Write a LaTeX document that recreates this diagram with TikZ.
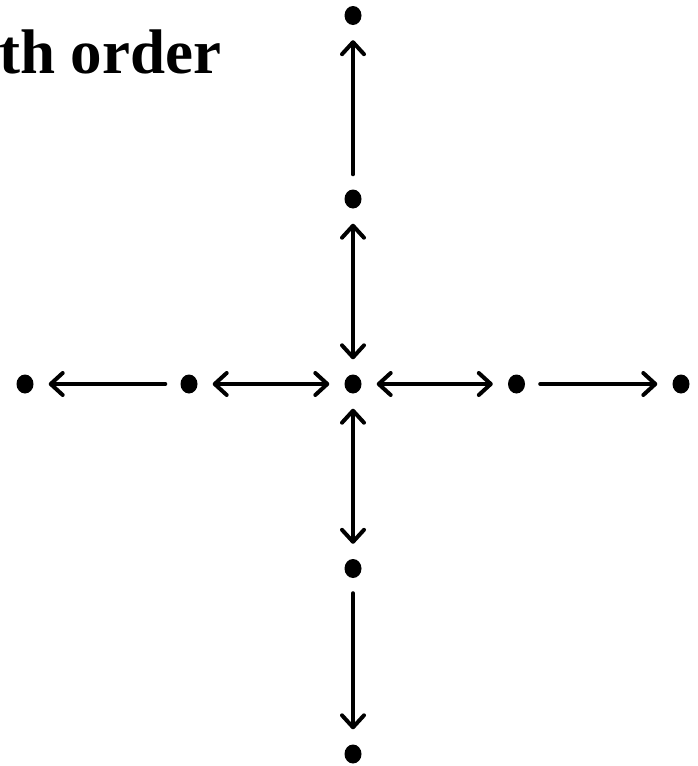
\documentclass[tikz,border=0pt]{standalone}
\usepackage{fontspec}
\setmainfont{Liberation Serif}
\usetikzlibrary{arrows.meta,shapes.geometric}
\begin{document}
\begin{tikzpicture}[x=1pt,y=-1pt,
  site/.style={ellipse,fill=black,inner sep=0pt,minimum width=17pt,minimum height=19pt},
  link/.style={line width=4pt,line cap=round,shorten <=15pt,shorten >=15pt},
  tip/.tip={Straight Barb[length=12pt,width=22pt,line width=4pt,line cap=round,line join=round]}]
\useasboundingbox (0,0) rectangle (698,766);
% title
\node[anchor=base west,inner sep=0pt,font=\fontsize{63}{63}\selectfont\bfseries] (title) at (-1,73) {th order};
% lattice sites
\node[site] (c)  at (353,384) {};
\node[site] (n1) at (353,199) {};
\node[site] (n2) at (353,15.5) {};
\node[site] (s1) at (353,568.5) {};
\node[site] (s2) at (353,754) {};
\node[site] (w1) at (189,384) {};
\node[site] (w2) at (25,384) {};
\node[site] (e1) at (516.5,384) {};
\node[site] (e2) at (681,384) {};
% couplings
\draw[link,tip-tip] (c) -- (n1);
\draw[link,-tip] (n1) -- (n2);
\draw[link,tip-tip] (c) -- (s1);
\draw[link,-tip] (s1) -- (s2);
\draw[link,tip-tip] (c) -- (w1);
\draw[link,-tip] (w1) -- (w2);
\draw[link,tip-tip] (c) -- (e1);
\draw[link,-tip] (e1) -- (e2);
\end{tikzpicture}
\end{document}
